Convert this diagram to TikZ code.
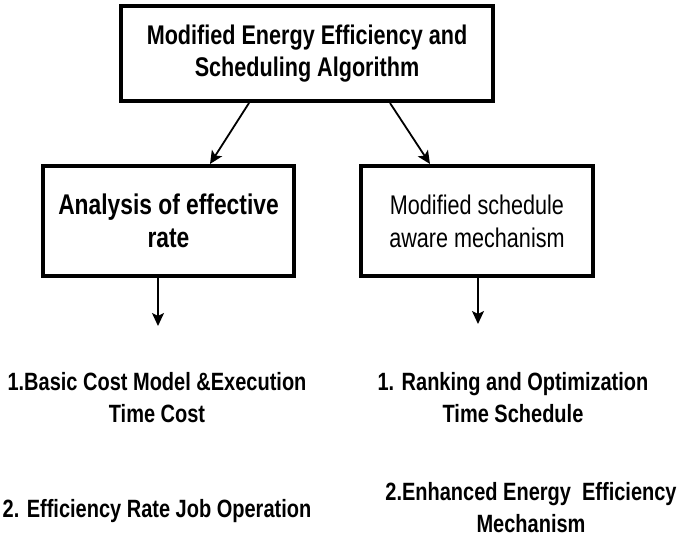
\documentclass[tikz,border=0pt]{standalone}
\usepackage{fontspec}
\setmainfont{Liberation Sans}[FakeStretch=0.8]
\usetikzlibrary{arrows.meta}
\begin{document}
\begin{tikzpicture}[x=1pt,y=-1pt,
  box/.style={draw=black,line width=4pt,fill=white,inner sep=0pt,align=center,
    font=\fontsize{27}{33}\selectfont},
  item/.style={align=center,inner sep=0pt,anchor=base,
    font=\bfseries\fontsize{25}{32}\selectfont},
  link/.style={line width=1.8pt,-{Stealth[length=13pt,width=12pt,inset=3pt]}}]
\useasboundingbox (0,0) rectangle (677,537);

% boxes
\node[box,font=\bfseries\fontsize{27}{32}\selectfont,minimum width=372pt,minimum height=95pt]
  (top) at (307,53.5) {Modified Energy Efficiency and\\Scheduling Algorithm};
\node[box,font=\bfseries\fontsize{28.5}{33}\selectfont,minimum width=251pt,minimum height=110pt]
  (left) at (168.5,221) {Analysis of effective\\rate};
\node[box,minimum width=232pt,minimum height=110pt]
  (right) at (477,221) {Modified schedule\\aware mechanism};

% arrows between boxes
\draw[link] ([xshift=-58pt]top.south) -- ([xshift=41.5pt]left.north);
\draw[link] ([xshift=83pt]top.south) -- ([xshift=-47pt]right.north);

% arrows below the boxes
\coordinate (lend) at (158,326);
\coordinate (rend) at (478,324);
\draw[link] (left.south -| lend) -- (lend);
\draw[link] (right.south -| rend) -- (rend);

% results (base anchor sits on the last line)
\node[item] (l1) at (157,422) {1.Basic Cost Model \&Execution\\Time Cost};
\node[item] (l2) at (157,517) {2. Efficiency Rate Job Operation};
\node[item] (r1) at (513,422) {1. Ranking and Optimization\\Time Schedule};
\node[item] (r2) at (531,532) {2.Enhanced Energy\ \ Efficiency\\Mechanism};
\end{tikzpicture}
\end{document}
